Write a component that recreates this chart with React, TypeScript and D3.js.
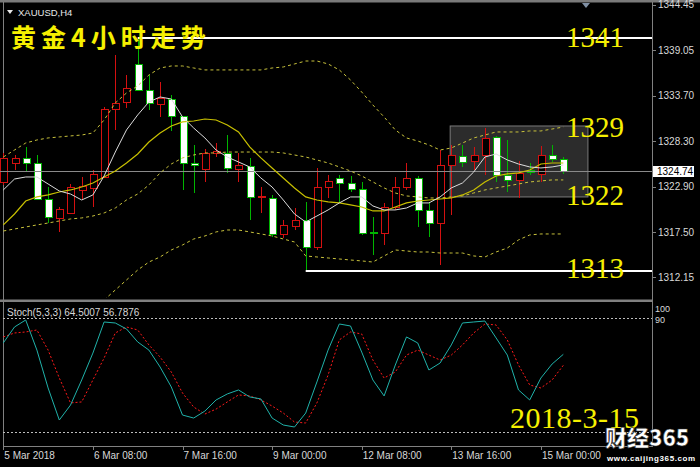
import React from "react";
import * as d3 from "d3";

// ---- candle data (XAUUSD H4) ----
const opens = [1323.45,1325.70,1326.30,1325.70,1321.43,1319.18,1319.77,1322.50,1322.74,1324.04,1332.11,1332.94,1337.45,1334.36,1332.70,1333.29,1331.28,1325.70,1324.99,1326.89,1326.89,1324.99,1325.35,1321.67,1321.55,1317.28,1318.23,1318.94,1315.74,1322.85,1323.92,1323.33,1322.62,1317.52,1317.40,1320.48,1322.85,1323.92,1320.13,1318.58,1325.46,1326.53,1325.94,1326.65,1328.79,1324.28,1323.69,1324.87,1324.40,1326.65,1326.18];
const highs = [1326.89,1326.65,1327.60,1326.65,1322.85,1320.48,1323.21,1324.04,1324.87,1332.35,1338.51,1336.14,1340.53,1336.14,1335.31,1333.77,1331.28,1327.84,1327.36,1328.07,1329.02,1326.89,1326.30,1322.85,1321.91,1318.94,1320.36,1321.08,1325.11,1324.28,1324.28,1324.16,1323.45,1319.30,1320.96,1324.04,1325.70,1324.16,1321.08,1327.24,1327.84,1327.84,1327.60,1329.85,1328.91,1328.43,1325.94,1325.70,1327.72,1327.84,1326.41];
const lows = [1323.09,1324.87,1324.63,1321.31,1318.58,1317.52,1319.65,1321.31,1320.48,1323.92,1329.62,1332.23,1334.24,1331.99,1331.16,1329.50,1322.50,1322.14,1323.45,1326.41,1324.52,1323.45,1318.94,1319.77,1316.92,1316.80,1317.75,1312.89,1315.38,1321.55,1321.08,1322.26,1317.16,1314.79,1315.97,1320.13,1322.50,1318.11,1316.92,1313.60,1319.53,1325.23,1324.87,1324.28,1323.45,1322.26,1321.55,1324.28,1323.45,1325.82,1324.40];
const closes = [1326.30,1326.30,1325.70,1321.43,1319.30,1320.24,1322.85,1322.97,1324.40,1332.11,1332.82,1334.60,1334.36,1332.82,1333.41,1331.28,1325.70,1325.52,1326.89,1327.13,1325.11,1325.46,1321.67,1321.79,1317.28,1318.35,1318.94,1315.74,1322.85,1323.57,1323.33,1322.62,1317.40,1317.34,1320.48,1322.85,1323.92,1320.13,1318.58,1325.46,1326.65,1325.82,1326.65,1328.67,1324.28,1323.69,1324.52,1324.63,1326.65,1326.18,1324.74];

// ---- indicators ----
const maFast = [1322.50,1323.80,1324.04,1324.04,1323.21,1322.38,1322.02,1321.31,1321.91,1324.16,1327.00,1329.62,1331.40,1332.94,1333.53,1333.29,1331.16,1329.85,1328.67,1327.24,1326.41,1325.82,1325.23,1323.92,1322.85,1321.31,1319.65,1318.70,1319.41,1320.13,1320.96,1321.67,1321.67,1320.60,1320.13,1320.13,1320.36,1320.96,1320.96,1321.67,1322.74,1323.33,1324.63,1326.41,1326.77,1326.06,1325.58,1325.23,1325.11,1325.23,1325.46];
const maSlow = [1318.35,1319.65,1321.19,1321.67,1321.91,1322.26,1322.50,1322.85,1323.33,1324.04,1324.75,1325.70,1326.77,1328.19,1329.26,1330.09,1330.57,1330.68,1330.92,1330.80,1330.21,1329.38,1327.60,1326.30,1325.11,1323.92,1322.74,1321.67,1321.31,1321.08,1320.96,1320.72,1320.48,1320.01,1320.01,1320.48,1320.96,1321.19,1321.31,1321.43,1321.55,1321.91,1322.50,1323.45,1324.16,1324.40,1324.52,1324.87,1325.58,1325.70,1325.70];
const bbUpper = [1326.41,1327.24,1328.07,1328.43,1328.67,1328.79,1328.91,1329.02,1329.26,1330.80,1332.82,1334.01,1334.84,1336.14,1336.97,1337.21,1337.21,1336.97,1336.74,1336.74,1336.74,1336.74,1336.74,1336.74,1336.97,1337.09,1337.45,1337.80,1337.80,1337.45,1336.74,1335.55,1334.12,1332.58,1331.16,1329.62,1328.67,1328.31,1327.84,1327.24,1327.48,1328.07,1328.67,1329.02,1329.38,1329.38,1329.38,1329.50,1329.50,1329.73,1329.97];
const bbMiddle = [1317.63,1317.87,1318.11,1318.35,1318.58,1318.82,1319.06,1319.18,1319.41,1319.77,1320.36,1321.31,1322.02,1323.09,1324.52,1325.58,1326.30,1326.65,1326.89,1326.89,1327.00,1327.00,1327.00,1327.00,1327.00,1326.89,1326.65,1326.41,1326.06,1325.70,1325.23,1324.75,1324.16,1323.45,1322.74,1322.14,1321.79,1321.67,1321.55,1321.55,1321.67,1321.79,1322.14,1322.50,1322.74,1322.97,1323.21,1323.45,1323.57,1323.69,1323.69];
const bbLower = [1308.85,1308.50,1308.26,1308.26,1308.50,1308.73,1308.97,1309.21,1309.33,1309.45,1310.63,1311.82,1313.00,1313.95,1314.55,1315.38,1315.97,1316.68,1317.04,1317.52,1317.75,1317.75,1317.52,1317.28,1317.04,1316.68,1316.33,1314.67,1314.55,1314.43,1314.31,1314.19,1314.08,1313.95,1314.67,1315.38,1315.26,1315.14,1315.14,1315.02,1315.02,1315.02,1314.67,1314.55,1315.14,1315.61,1316.57,1317.16,1317.28,1317.28,1317.28];
const stochK = [72.5,83.7,88.6,67.5,40.9,18.4,28.9,46.5,65.4,87.2,86.5,82.3,73.2,67.5,55.6,41.6,21.9,19.8,24.7,32.5,36.7,39.5,34.6,33.2,19.8,14.9,13.5,23.3,45.1,67.5,85.8,84.4,66.1,46.5,35.3,57.0,76.7,72.5,53.5,58.4,71.1,86.5,87.2,87.9,76.0,64.0,39.5,32.5,47.9,57.7,64.5];
const stochD = [76.7,79.5,80.2,81.6,67.5,47.9,30.4,31.1,46.5,61.9,79.5,83.7,81.6,71.1,62.6,52.1,37.4,27.5,22.6,26.1,31.1,36.0,35.3,32.5,28.2,23.3,17.0,16.3,30.4,50.0,74.6,80.2,78.8,60.5,47.9,52.1,64.0,67.5,64.0,60.5,64.0,71.1,79.5,85.8,85.1,74.6,57.0,43.0,40.9,46.5,56.8];
const stochTitle = "Stoch(5,3,3) 64.5007 56.7876";

// ---- axes / annotations ----
const priceTicks = [1344.45, 1339.05, 1333.70, 1328.30, 1322.90, 1317.50, 1312.15];
const timeTickBars = [0, 8, 16, 24, 32, 40, 48];
const timeTickLabels = ["5 Mar 2018", "6 Mar 08:00", "7 Mar 16:00", "9 Mar 00:00", "12 Mar 08:00", "13 Mar 16:00", "15 Mar 00:00"];
const stochLevels = [90, 10];
const stochLabels = ["100", "90"];
const stochLabelValues = [100, 90];
const levelPrices = [1340.53, 1312.89];
const levelStartBars = [12, 27];
const annotationTexts = ["1341", "1329", "1322", "1313"];
const annotationPrices = [1339.46, 1328.79, 1320.72, 1312.06];
const boxBars = [39.9, 52.2];
const boxPrices = [1330.09, 1321.67];

const RED = "#d41010";
const GREEN = "#00b400";
const AXIS = "#808080";
const TXT = "#d8d8d8";
const FONT = "'Liberation Sans', Arial, sans-serif";

export default function App() {
  const n = closes.length;
  const idx = d3.range(n);
  const x = d3.scaleLinear().domain([0, 50]).range([3.3, 563.3]);
  const y = d3.scaleLinear().domain([1309.8, 1344.8]).range([297, 2]);
  const ys = d3.scaleLinear().domain([0, 100]).range([446.25, 303.75]);
  const pl = (arr: number[]) => d3.line<number>().x((_, i) => x(i)).y((d) => y(d))(arr) || "";
  const sl = (arr: number[]) => d3.line<number>().x((_, i) => x(i)).y((d) => ys(d))(arr) || "";
  const last = closes[n - 1];
  const yl = Math.round(y(last)) + 0.5;

  return (
    <svg width={700} height={467} style={{ position: "absolute", left: 0, top: 0, display: "block" }}>
      <defs>
        <clipPath id="mainClip"><rect x={0} y={3} width={652} height={295} /></clipPath>
        <clipPath id="subClip"><rect x={3} y={303} width={649} height={143} /></clipPath>
      </defs>
      <rect x={0} y={0} width={700} height={467} fill="#000" />

      {/* frames */}
      <rect x={0} y={0} width={700} height={2.5} fill="#7a7a7a" />
      <line x1={3.5} x2={3.5} y1={2} y2={447} stroke={AXIS} />
      <line x1={652.5} x2={652.5} y1={2} y2={447} stroke={AXIS} />
      <rect x={0} y={299.5} width={653} height={2.5} fill={AXIS} />
      <line x1={3} x2={653} y1={446.5} y2={446.5} stroke={AXIS} />

      {/* main panel */}
      <g clipPath="url(#mainClip)">
        <rect x={x(boxBars[0])} y={y(boxPrices[0])} width={x(boxBars[1]) - x(boxBars[0])} height={y(boxPrices[1]) - y(boxPrices[0])} fill="#2c2c2c" stroke="#7a7a7a" />
        {idx.map((i) => {
          const o = opens[i], c = closes[i];
          const bull = c > o;
          const col = bull ? RED : GREEN;
          const cx = Math.round(x(i)) + 0.5;
          const top = Math.round(y(Math.max(o, c)));
          const bot = Math.round(y(Math.min(o, c)));
          return (
            <g key={i} shapeRendering="crispEdges">
              <line x1={cx} x2={cx} y1={y(highs[i])} y2={y(lows[i])} stroke={col} />
              <rect x={cx - 3.5} y={top + 0.5} width={7} height={Math.max(1, bot - top)} fill={bull ? "#000" : "#fff"} stroke={col} />
            </g>
          );
        })}
        <line x1={0} x2={652} y1={yl} y2={yl} stroke="#8a8a8a" />
        {levelPrices.map((p, k) => (
          <line key={k} x1={x(levelStartBars[k])} x2={652} y1={y(p)} y2={y(p)} stroke="#fff" strokeWidth={2} />
        ))}
        <path d={pl(bbUpper)} fill="none" stroke="#c8c23c" strokeDasharray="3,3" />
        <path d={pl(bbMiddle)} fill="none" stroke="#c8c23c" strokeDasharray="3,3" />
        <path d={pl(bbLower)} fill="none" stroke="#c8c23c" strokeDasharray="3,3" />
        <path d={pl(maSlow)} fill="none" stroke="#c8c000" strokeWidth={1.2} />
        <path d={pl(maFast)} fill="none" stroke="#dcdcdc" strokeWidth={1} />
      </g>

      {/* price axis */}
      {priceTicks.map((p) => (
        <g key={p}>
          <line x1={652} x2={656} y1={Math.round(y(p)) + 0.5} y2={Math.round(y(p)) + 0.5} stroke={AXIS} />
          <text x={658} y={y(p) + 3.5} fill={TXT} fontSize={10} fontFamily={FONT}>{p.toFixed(2)}</text>
        </g>
      ))}
      <rect x={653} y={yl - 5.5} width={41} height={11} fill="#fff" />
      <text x={657} y={yl + 3.5} fill="#000" fontSize={10} fontFamily={FONT}>{last.toFixed(2)}</text>
      <path d="M582,3 L590,3 L586,8 Z" fill="#8090a4" />

      {/* title */}
      <path d="M7,10 L13,10 L10,14 Z" fill="#e8e8e8" />
      <text x={18} y={15.5} fill="#e8e8e8" fontSize={9.5} fontFamily={FONT}>XAUUSD,H4</text>
      <text x={11} y={47} fill="#f6f000" fontSize={25} fontWeight={700} letterSpacing={5} fontFamily="'Noto Sans CJK SC', sans-serif">黄金4小时走势</text>

      {annotationTexts.map((t, k) => (
        <text key={t} x={566} y={y(annotationPrices[k])} fill="#f6f000" fontSize={29} fontFamily="'Liberation Serif', 'Times New Roman', serif">{t}</text>
      ))}

      {/* stochastic panel */}
      <g clipPath="url(#subClip)">
        {stochLevels.map((v) => (
          <line key={v} x1={3} x2={652} y1={Math.round(ys(v)) + 0.5} y2={Math.round(ys(v)) + 0.5} stroke="#bdbdbd" strokeDasharray="2,2" />
        ))}
        <path d={sl(stochD)} fill="none" stroke="#ff1a1a" strokeDasharray="2,2" strokeWidth={1} />
        <path d={sl(stochK)} fill="none" stroke="#20b2aa" strokeWidth={1} />
      </g>
      <text x={7} y={316} fill={TXT} fontSize={10} fontFamily={FONT}>{stochTitle}</text>
      {stochLabels.map((t, k) => (
        <text key={t} x={655} y={ys(stochLabelValues[k]) + (k === 0 ? 8 : 5)} fill={TXT} fontSize={9} fontFamily={FONT}>{t}</text>
      ))}

      {/* time axis */}
      {timeTickBars.map((b, k) => (
        <g key={b}>
          <line x1={Math.round(x(b)) + 0.5} x2={Math.round(x(b)) + 0.5} y1={446} y2={450} stroke={AXIS} />
          <text x={x(b) + 1} y={459} fill={TXT} fontSize={10} fontFamily={FONT}>{timeTickLabels[k]}</text>
        </g>
      ))}

      {/* date + watermark */}
      <text x={510} y={428} fill="#f6f000" fontSize={30} letterSpacing={0.5} fontFamily="'Liberation Serif', 'Times New Roman', serif">2018-3-15</text>
      <rect x={603} y={448} width={97} height={19} fill="#000" />
      <text x={605} y={446} fill="#fff" stroke="#333" strokeWidth={0.6} fontSize={22} fontWeight={900} fontFamily="'Noto Sans CJK SC', sans-serif">财经365</text>
      <text x={607} y={461} fill="#fff" fontSize={8} fontWeight={700} letterSpacing={0.6} fontFamily={FONT}>www.caijing365.com</text>
    </svg>
  );
}
